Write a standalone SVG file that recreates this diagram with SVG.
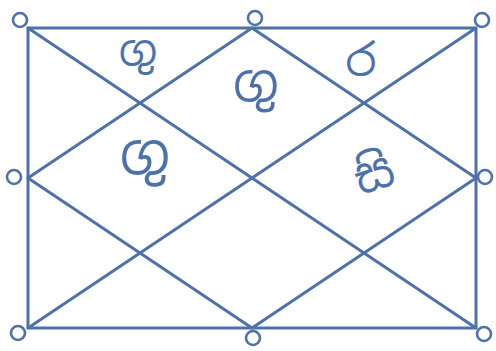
<svg xmlns="http://www.w3.org/2000/svg" width="496" height="351" viewBox="0 0 496 351">
<style>
.ln{stroke:#4d72aa;stroke-width:3;fill:none;stroke-linecap:round;stroke-linejoin:round}
.c{stroke:#4d72aa;stroke-width:2.6;fill:none}
.t{fill:#4d72aa;font-family:"Noto Sans Sinhala","Noto Sans",sans-serif;text-anchor:middle}
</style>
<rect width="496" height="351" fill="#fff"/>
<g id="connectors">
<path class="ln" d="M28,28 L476,28 L476,328 L28,328 Z"/>
<path class="ln" d="M28,28 L476,328 M476,28 L28,328"/>
<path class="ln" d="M252,28 L476,178 L252,328 L28,178 Z"/>
</g>
<g id="n-tl"><circle class="c" cx="20" cy="20" r="7"/></g>
<g id="n-tm"><circle class="c" cx="255" cy="18" r="7"/></g>
<g id="n-tr"><circle class="c" cx="482" cy="20" r="7"/></g>
<g id="n-ml"><circle class="c" cx="14" cy="177" r="7"/></g>
<g id="n-mr"><circle class="c" cx="485" cy="177" r="7"/></g>
<g id="n-bl"><circle class="c" cx="18" cy="333" r="7"/></g>
<g id="n-bm"><circle class="c" cx="253" cy="338" r="7"/></g>
<g id="n-br"><circle class="c" cx="484" cy="334" r="7"/></g>
<g id="h-2"><text class="t" x="138" y="66" font-size="42">ගු</text></g>
<g id="h-1"><text class="t" x="256" y="101" font-size="50">ගු</text></g>
<g id="h-12"><text class="t" x="361" y="76" font-size="44">ර</text></g>
<g id="h-4"><text class="t" x="145" y="174" font-size="55">ගු</text></g>
<g id="h-10"><text class="t" x="373" y="190" font-size="48" transform="rotate(-18 373 170)">සි</text></g>
</svg>
